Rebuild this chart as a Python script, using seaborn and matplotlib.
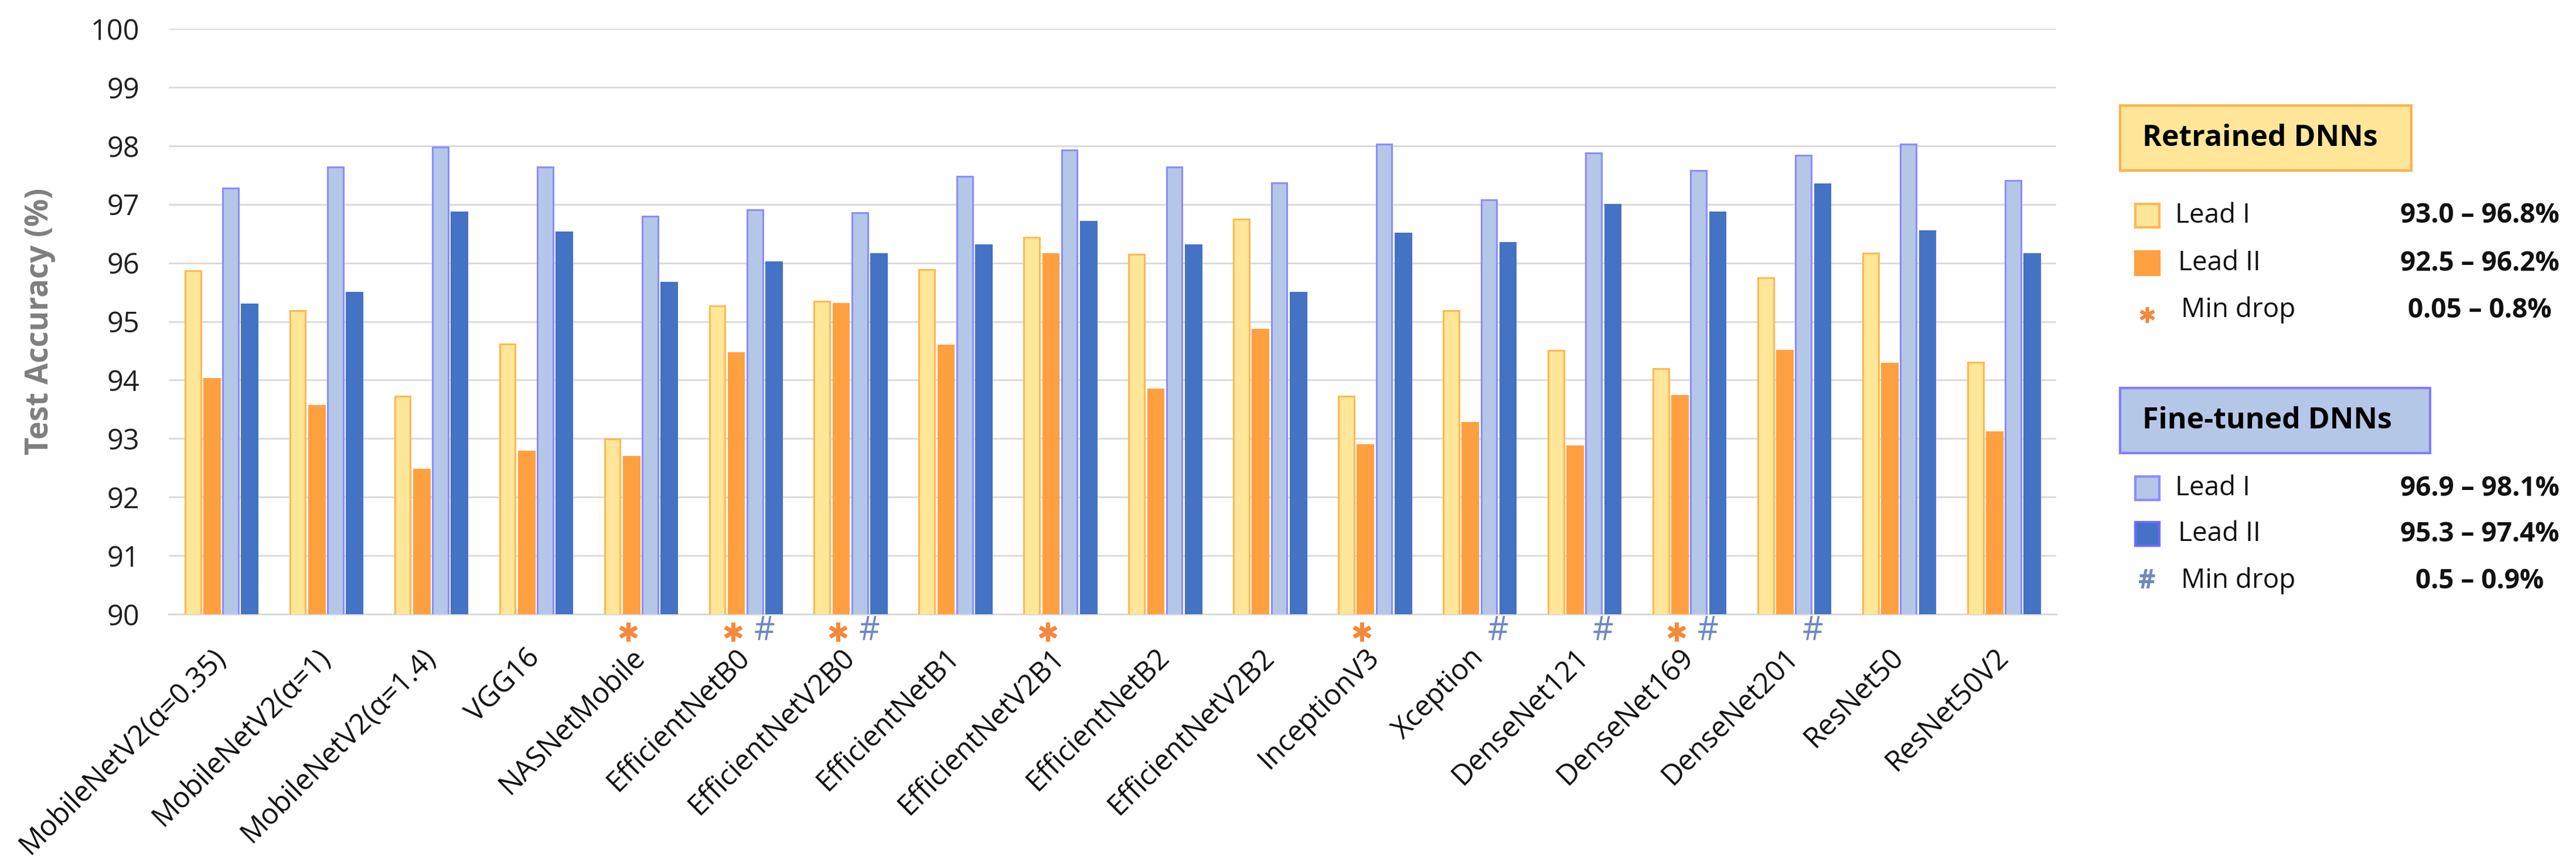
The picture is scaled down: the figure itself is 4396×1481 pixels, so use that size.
import matplotlib
matplotlib.use("Agg")
import matplotlib.pyplot as plt
from matplotlib.patches import Rectangle
import seaborn as sns
import pandas as pd

# ---------------- data ----------------
models = ['MobileNetV2(α=0.35)', 'MobileNetV2(α=1)', 'MobileNetV2(α=1.4)', 'VGG16',
          'NASNetMobile', 'EfficientNetB0', 'EfficientNetV2B0', 'EfficientNetB1',
          'EfficientNetV2B1', 'EfficientNetB2', 'EfficientNetV2B2', 'InceptionV3',
          'Xception', 'DenseNet121', 'DenseNet169', 'DenseNet201', 'ResNet50', 'ResNet50V2']
series = ['Retrained Lead I', 'Retrained Lead II', 'Fine-tuned Lead I', 'Fine-tuned Lead II']
retrained_lead1 = [95.87, 95.19, 93.72, 94.61, 92.99, 95.27, 95.35, 95.89, 96.44,
                   96.15, 96.75, 93.72, 95.19, 94.50, 94.19, 95.75, 96.17, 94.30]
retrained_lead2 = [94.02, 93.56, 92.47, 92.78, 92.69, 94.46, 95.31, 94.59, 96.16,
                   93.84, 94.86, 92.89, 93.27, 92.87, 93.73, 94.50, 94.28, 93.11]
finetuned_lead1 = [97.28, 97.64, 97.98, 97.64, 96.80, 96.91, 96.86, 97.48, 97.93,
                   97.64, 97.37, 98.03, 97.08, 97.88, 97.58, 97.84, 98.03, 97.41]
finetuned_lead2 = [95.30, 95.50, 96.87, 96.53, 95.67, 96.02, 96.16, 96.31, 96.71,
                   96.31, 95.50, 96.51, 96.35, 97.00, 96.87, 97.35, 96.55, 96.16]
star_models = ['NASNetMobile', 'EfficientNetB0', 'EfficientNetV2B0', 'EfficientNetV2B1',
               'InceptionV3', 'DenseNet169']
hash_models = ['EfficientNetB0', 'EfficientNetV2B0', 'Xception', 'DenseNet121',
               'DenseNet169', 'DenseNet201']
yticks = list(range(90, 101))
ylabel = 'Test Accuracy (%)'
legend_titles = ['Retrained DNNs', 'Fine-tuned DNNs']
legend_rows = ['Lead I', 'Lead II', 'Min drop']
retrained_ranges = ['93.0 – 96.8%', '92.5 – 96.2%', '0.05 – 0.8%']
finetuned_ranges = ['96.9 – 98.1%', '95.3 – 97.4%', '0.5 – 0.9%']

# ---------------- style ----------------
face = ['#FFE699', '#FFA040', '#B4C7E7', '#4472C4']
edge = ['#FFB850', '#FFA040', '#8C8CFF', '#4472C4']
star_color = '#F5883A'
hash_color = '#6F88BE'
FONT = 'Open Sans'

sns.set_theme(style='white')
plt.rcParams['font.family'] = [FONT, 'DejaVu Sans']

W, H = 4396, 1481
DPI = 100
fig = plt.figure(figsize=(W / DPI, H / DPI), dpi=DPI)
ax = fig.add_axes([288 / W, 1 - 1048 / H, (3509 - 288) / W, (1048 - 49) / H])

df = pd.DataFrame({
    'Model': models * 4,
    'Accuracy': retrained_lead1 + retrained_lead2 + finetuned_lead1 + finetuned_lead2,
    'Series': sum([[s] * len(models) for s in series], []),
})
sns.barplot(data=df, x='Model', y='Accuracy', hue='Series', hue_order=series,
            order=models, palette=face, saturation=1, width=0.72, gap=0.17,
            errorbar=None, legend=False, ax=ax, zorder=3)
for cont, ec in zip(ax.containers, edge):
    for p in cont:
        p.set_edgecolor(ec)
        p.set_linewidth(2.2)

ax.set_ylim(90, 100)
ax.set_xlim(-0.5, len(models) - 0.5)
ax.set_yticks(yticks)
ax.set_yticklabels([str(t) for t in yticks], fontsize=35, color='#202020')
ax.yaxis.grid(True, color='#D9D9D9', linewidth=2.0)
ax.set_axisbelow(True)
for s in ['left', 'right', 'top']:
    ax.spines[s].set_visible(False)
ax.spines['bottom'].set_color('#D9D9D9')
ax.spines['bottom'].set_linewidth(2.0)
ax.tick_params(axis='both', length=0)
ax.tick_params(axis='y', pad=36)
ax.tick_params(axis='x', pad=48)
ax.set_xlabel('')
ax.set_xticks(range(len(models)))
ax.set_xticklabels(models, rotation=45, ha='right', va='center',
                   rotation_mode='anchor', fontsize=35, color='#101010')
ax.set_ylabel(ylabel, fontsize=38, fontweight='bold', color='#7F7F7F')
ax.yaxis.set_label_coords(-0.060, 0.5)

# min-drop markers below axis
xtr = ax.get_xaxis_transform()
for m in star_models:
    i = models.index(m)
    ax.plot([i - 0.12], [-0.030], transform=xtr, marker=(6, 2, 0), markersize=23,
            markeredgewidth=4.8, color=star_color, clip_on=False, linestyle='none')
for m in hash_models:
    i = models.index(m)
    ax.text(i + 0.18, -0.030, '#', transform=xtr, ha='center', va='center',
            fontsize=40, color=hash_color, family=FONT)

# ---------------- legend panel (pixel coordinates) ----------------
lax = fig.add_axes([0, 0, 1, 1])
lax.set_xlim(0, W)
lax.set_ylim(H, 0)
lax.axis('off')

def panel(y_box, box_w, fill, border, title, sq_fill, sq_edge, marker_kind, mcolor, ranges, rows_y):
    lax.add_patch(Rectangle((3618, y_box), box_w, 111, facecolor=fill, edgecolor=border, linewidth=3))
    lax.text(3656, y_box + 56, title, fontsize=36, fontweight='bold', color='black',
             ha='left', va='center')
    for k, (lab, rng, yy) in enumerate(zip(legend_rows, ranges, rows_y)):
        if k < 2:
            lax.add_patch(Rectangle((3644, yy - 20), 41, 40, facecolor=sq_fill[k],
                                    edgecolor=sq_edge[k], linewidth=3))
        else:
            if marker_kind == 'star':
                lax.plot([3664], [yy + 8], marker=(6, 2, 0), markersize=19,
                         markeredgewidth=4, color=mcolor, linestyle='none')
            else:
                lax.text(3664, yy, '#', fontsize=33, fontweight='bold', color=mcolor,
                         ha='center', va='center')
        lax.text(3712 + 5 * k, yy, lab, fontsize=33, color='#111111', ha='left', va='center')
        lax.text(4232, yy, rng, fontsize=33, fontweight='bold', color='#111111',
                 ha='center', va='center')

panel(180, 497, '#FFE699', '#FFB04A', legend_titles[0],
      [face[0], face[1]], [edge[0], face[1]], 'star', star_color, retrained_ranges,
      [368, 449, 529])
panel(662, 529, '#B4C7E7', '#7F7FFF', legend_titles[1],
      [face[2], face[3]], [edge[2], '#6A6AFF'], 'hash', hash_color, finetuned_ranges,
      [833, 911, 991])

fig.savefig('out.png', dpi=DPI)
